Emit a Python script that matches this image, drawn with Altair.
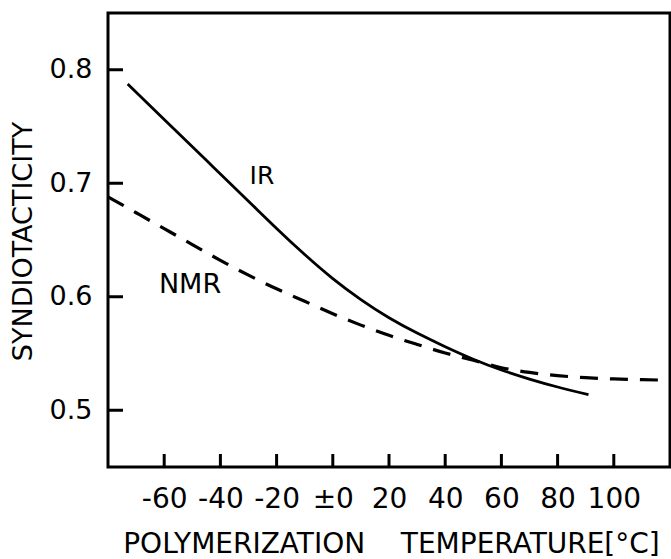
import altair as alt
import pandas as pd

# IR syndiotacticity vs polymerization temperature
ir_temp = [-73, -60, -45, -30, -20, -10, 0, 10, 20, 30, 40, 50, 60, 70, 80, 91]
ir_synd = [0.7874, 0.7562, 0.7202, 0.6842, 0.6602, 0.6372, 0.616, 0.5975,
           0.5815, 0.568, 0.556, 0.545, 0.5355, 0.5275, 0.5205, 0.5137]

# NMR syndiotacticity vs polymerization temperature
nmr_temp = [-80, -70, -60, -50, -40, -30, -20, -10, 0, 10, 20, 30, 40, 50,
            60, 70, 80, 90, 100, 110, 120]
nmr_synd = [0.688, 0.674, 0.660, 0.646, 0.632, 0.619, 0.607, 0.596, 0.585,
            0.575, 0.566, 0.558, 0.5505, 0.544, 0.5375, 0.5333, 0.5305,
            0.5287, 0.5276, 0.5269, 0.5265]

x_ticks = [-60, -40, -20, 0, 20, 40, 60, 80, 100]
y_ticks = [0.5, 0.6, 0.7, 0.8]

curve_labels = ["IR", "NMR"]
label_temp = [-25.2, -50.8]
label_synd = [0.7064, 0.6104]
label_size = [25, 27]

FONT = "DejaVu Sans"
W, H = 562, 454

ir_df = pd.DataFrame({"t": ir_temp, "s": ir_synd})
nmr_df = pd.DataFrame({"t": nmr_temp, "s": nmr_synd})
lab_df = pd.DataFrame({"name": curve_labels, "t": label_temp,
                       "s": label_synd, "size": label_size})

xscale = alt.Scale(domain=[-80, 120], nice=False, zero=False)
yscale = alt.Scale(domain=[0.45, 0.85], nice=False, zero=False)

x_axis = alt.Axis(
    values=x_ticks, labelExpr="datum.value == 0 ? '±0' : '' + datum.value",
    ticks=False, domain=False, grid=False, labelFont=FONT, labelFontSize=28,
    labelColor="black", labelPadding=18, labelFlush=False,
    title="POLYMERIZATION\u00a0\u00a0\u00a0\u00a0TEMPERATURE[°C]",
    titleFont=FONT, titleFontSize=28, titleFontWeight="normal",
    titleColor="black", titleX=283, titleY=85, titleAlign="center",
    titleBaseline="alphabetic", titleAnchor="middle")

y_axis = alt.Axis(
    values=y_ticks, format=".1f", ticks=False, domain=False, grid=False,
    labelFont=FONT, labelFontSize=27, labelColor="black", labelPadding=16,
    labelFlush=False, title="SYNDIOTACTICITY", titleFont=FONT,
    titleFontSize=27, titleFontWeight="normal", titleColor="black",
    titleAngle=270, titleX=-85, titleY=228, titleAlign="center",
    titleBaseline="middle")

base_x = alt.X("t:Q", scale=xscale, axis=x_axis)
base_y = alt.Y("s:Q", scale=yscale, axis=y_axis)

ir_line = alt.Chart(ir_df).mark_line(
    color="black", strokeWidth=2.8, interpolate="natural"
).encode(x=base_x, y=base_y)

nmr_line = alt.Chart(nmr_df).mark_line(
    color="black", strokeWidth=3.2, strokeDash=[18, 12], interpolate="natural"
).encode(x=alt.X("t:Q", scale=xscale), y=alt.Y("s:Q", scale=yscale))

# inward tick marks on the bottom and left frame
xt = alt.Chart(pd.DataFrame({"t": x_ticks})).mark_rule(
    color="black", strokeWidth=3
).encode(x=alt.X("t:Q", scale=xscale), y=alt.value(H), y2=alt.value(H - 13))

yt = alt.Chart(pd.DataFrame({"s": y_ticks})).mark_rule(
    color="black", strokeWidth=3
).encode(y=alt.Y("s:Q", scale=yscale), x=alt.value(0), x2=alt.value(15))

labels = alt.Chart(lab_df).mark_text(
    font=FONT, color="black", align="center", baseline="middle"
).encode(
    x=alt.X("t:Q", scale=xscale), y=alt.Y("s:Q", scale=yscale),
    text="name:N", size=alt.Size("size:Q", scale=None, legend=None))

chart = alt.layer(ir_line, nmr_line, xt, yt, labels).properties(
    width=W, height=H,
    padding={"left": 108, "top": 13, "right": 1, "bottom": 92},
    autosize=alt.AutoSizeParams(type="none"),
    background="white",
).configure_view(stroke="black", strokeWidth=3)

chart.save("out.html", embed_options={"renderer": "svg", "actions": False})
